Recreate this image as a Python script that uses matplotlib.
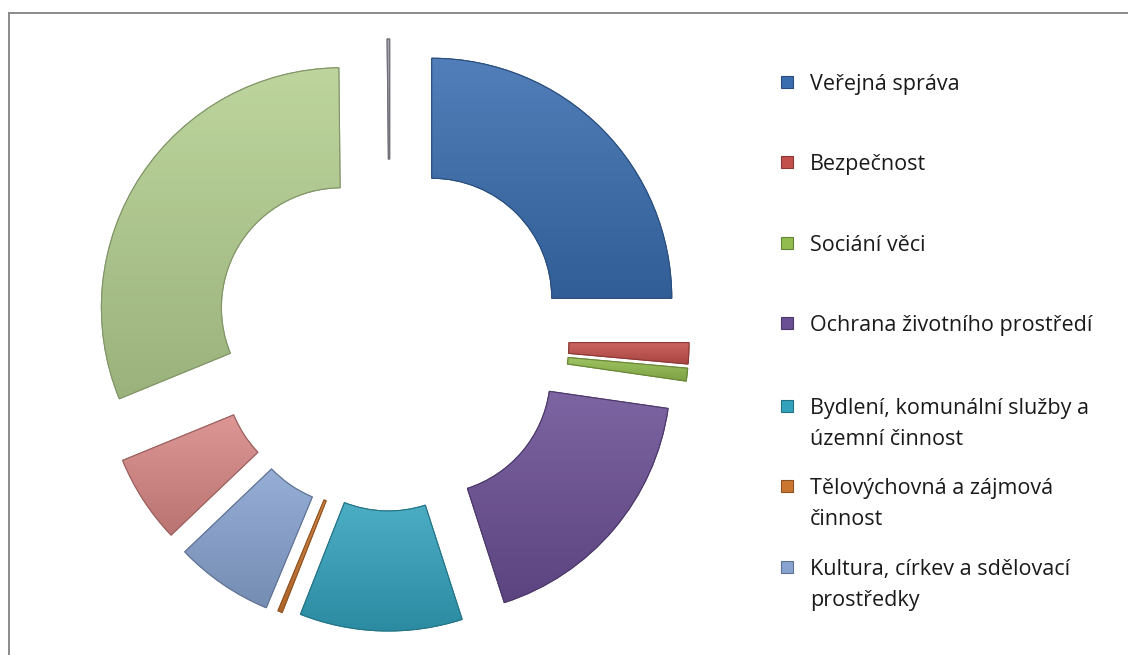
import matplotlib.pyplot as plt
import numpy as np
from matplotlib.colors import to_rgb
from matplotlib.patches import Rectangle, Wedge
from matplotlib.lines import Line2D

# share of each item in the doughnut (%), clockwise from the top
labels = ['Veřejná správa', 'Bezpečnost', 'Sociání věci',
          'Ochrana životního prostředí',
          'Bydlení, komunální služby a\núzemní činnost',
          'Tělovýchovná a zájmová\nčinnost',
          'Kultura, církev a sdělovací\nprostředky',
          'Zdravotnictví', 'Vzdělávání', 'Ostatní']
values = [25.0, 1.42, 0.86, 17.75, 10.94, 0.3, 6.6, 5.94, 31.02, 0.17]
colors = ['#3A6DAF', '#C4504C', '#92BC4E', '#6B4F95', '#33A2BC',
          '#CB7630', '#88A3D0', '#D88886', '#B4CF90', '#9C9CA6']
n_legend = 7   # only the first seven entries fit into the legend

# how far each slice is pulled out (fraction of radius)
explode = [0.246, 0.246, 0.246, 0.221, 0.2125, 0.221, 0.233, 0.225, 0.243, 0.254]

W, H = 1128, 655
fig = plt.figure(figsize=(W / 100, H / 100), dpi=100)
plt.rcParams['font.family'] = ['Open Sans', 'DejaVu Sans']

# pie centre / radius in pixels
cx, cy, R = 390, 340, 240
half = 1.45
ax = fig.add_axes([(cx - half * R) / W, (H - cy - half * R) / H,
                   2 * half * R / W, 2 * half * R / H])

wedges, _ = ax.pie(values, colors=colors, startangle=90, counterclock=False,
                   explode=explode, radius=1.0,
                   wedgeprops=dict(width=0.5, linewidth=0.8))


def shade(c, f):
    c = np.array(to_rgb(c))
    if f > 1:
        return c + (1 - c) * (f - 1)
    return c * f


# vertical light->dark shading on each wedge, clipped to its shape
for w, c in zip(wedges, colors):
    w.set_edgecolor(shade(c, 0.75))
    bb = w.get_path().get_extents()
    t = np.linspace(0, 1, 64)[:, None]
    top, bot = shade(c, 1.12), shade(c, 0.86)
    grad = (bot[None, :] * (1 - t) + top[None, :] * t)[:, None, :]
    im = ax.imshow(grad, extent=[bb.x0, bb.x1, bb.y0, bb.y1], origin='lower',
                   aspect='auto', interpolation='bilinear', zorder=w.get_zorder() + 0.1)
    im.set_clip_path(w)
    ax.add_patch(Wedge(w.center, w.r, w.theta1, w.theta2, width=w.width,
                       fill=False, edgecolor=shade(c, 0.72), lw=0.8,
                       zorder=w.get_zorder() + 0.2))

ax.set_xlim(-half, half)
ax.set_ylim(-half, half)
ax.set_aspect('equal')
ax.axis('off')

# legend, laid out like the Excel one
entry_y = [82, 162, 243, 323, 406, 486, 567]
line_gap = 31
for lab, c, y in zip(labels[:n_legend], colors[:n_legend], entry_y):
    fig.patches.append(Rectangle((781 / W, 1 - (y + 6) / H), 12 / W, 12 / H,
                                 transform=fig.transFigure, facecolor=c,
                                 edgecolor=shade(c, 0.7), lw=0.8))
    for i, line in enumerate(lab.split('\n')):
        fig.text(810 / W, 1 - (y + i * line_gap) / H, line, fontsize=15.5,
                 va='center_baseline', ha='left', color='#1a1a1a')

# chart frame (only top and left edges are inside the picture)
fig.add_artist(Line2D([8.5 / W, 8.5 / W], [0, 1 - 12.5 / H], color='#8a8a8a', lw=1.4))
fig.add_artist(Line2D([8.5 / W, 1], [1 - 12.5 / H, 1 - 12.5 / H], color='#8a8a8a', lw=1.4))

fig.savefig('out.png', dpi=100)
